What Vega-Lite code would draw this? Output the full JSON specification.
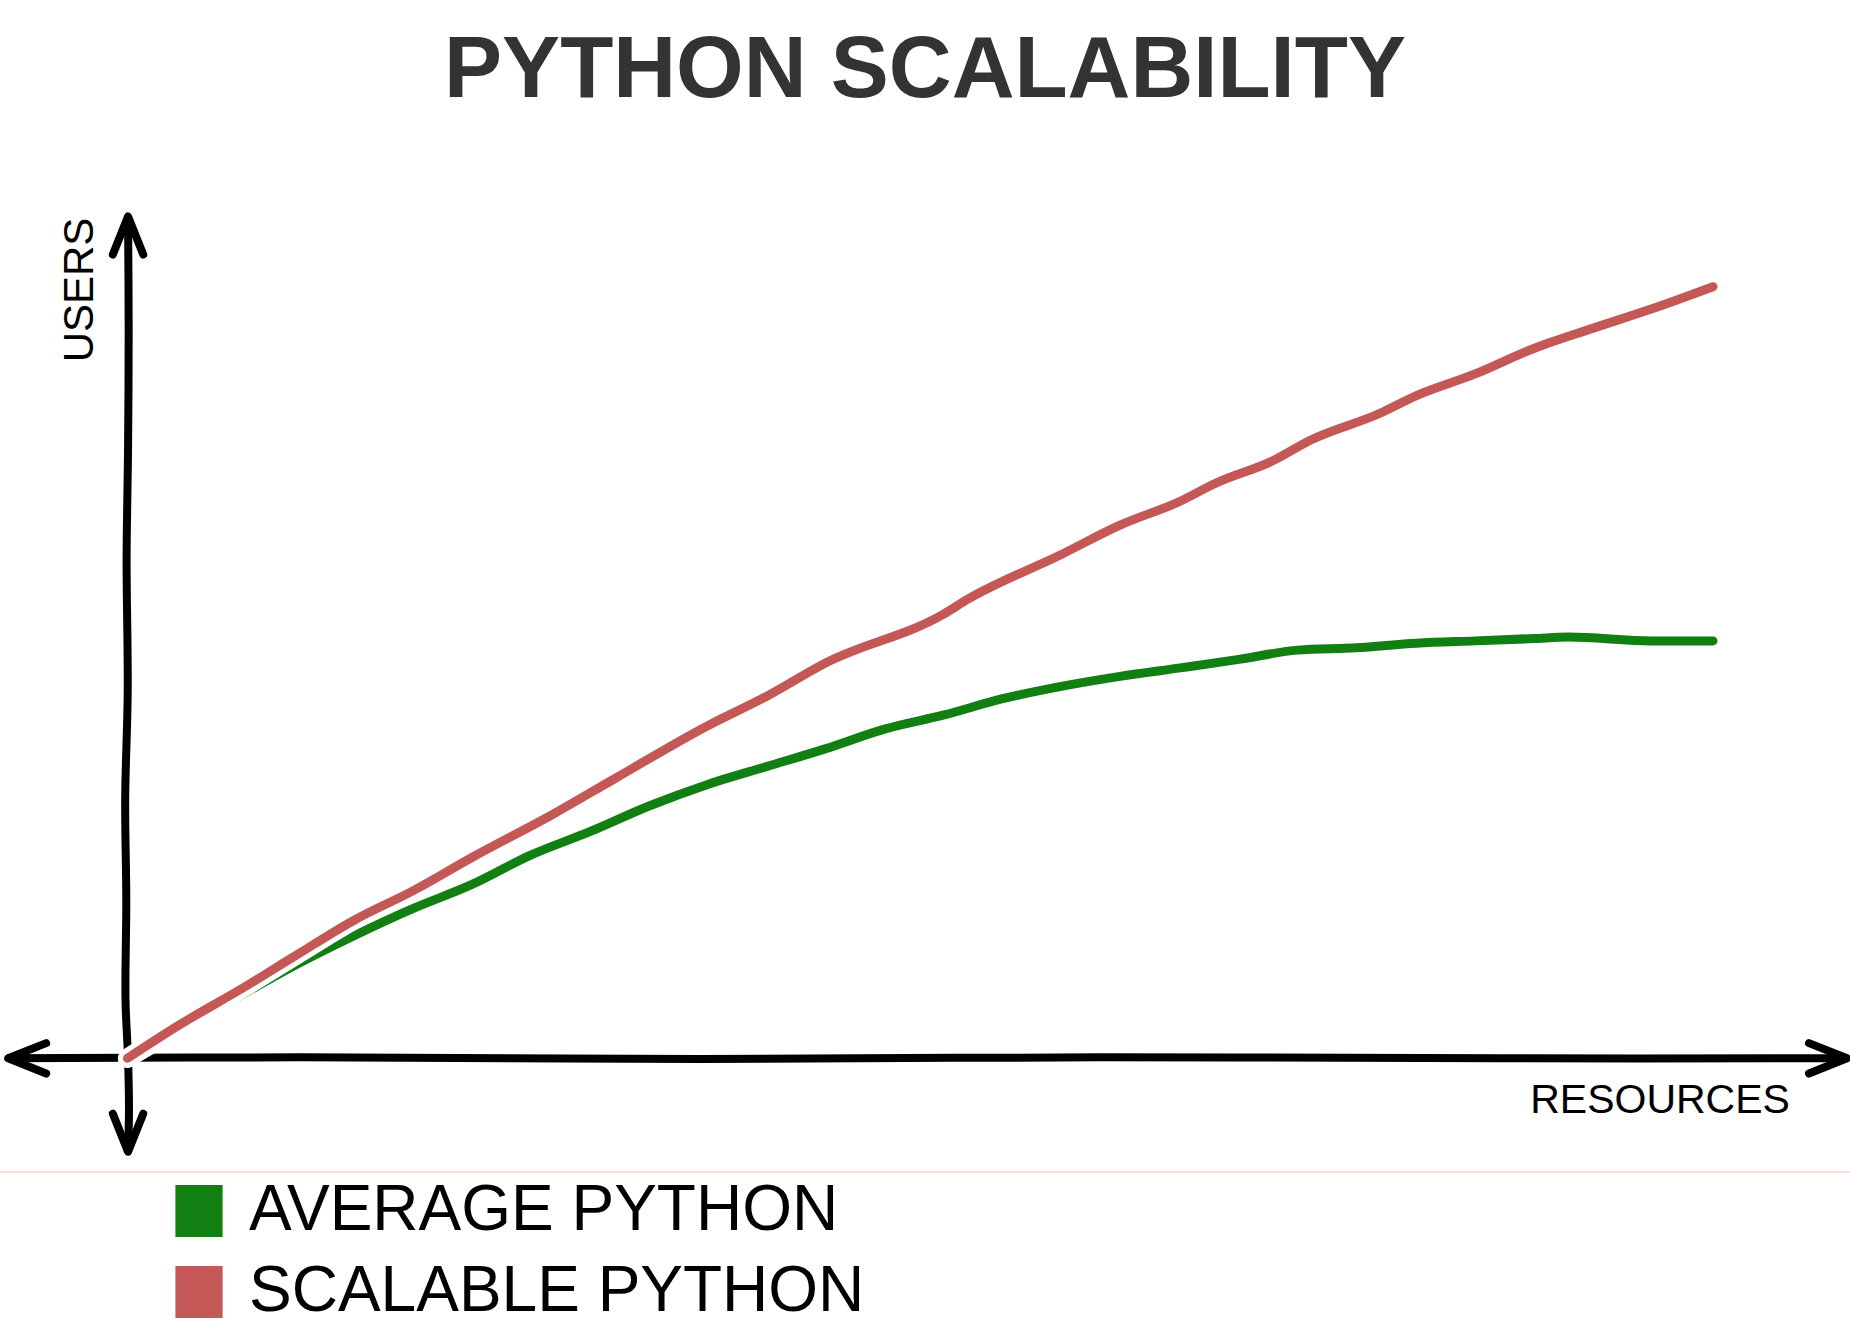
{
  "$schema": "https://vega.github.io/schema/vega-lite/v6.json",
  "width": 1850,
  "height": 1202,
  "autosize": "none",
  "padding": {"top": 130, "left": 0, "right": 0, "bottom": 0},
  "background": "white",
  "title": {"text": "PYTHON SCALABILITY", "font": "Liberation Sans", "fontSize": 87, "fontWeight": "bold", "color": "#333333", "anchor": "middle", "offset": 15},
  "config": {"view": {"stroke": null}, "axis": {"disable": true}},
  "datasets": {
    "lines": [
      {"series": "AVERAGE PYTHON", "x": 0, "y": 0},
      {"series": "AVERAGE PYTHON", "x": 3.1, "y": 3.7},
      {"series": "AVERAGE PYTHON", "x": 7.6, "y": 8.7},
      {"series": "AVERAGE PYTHON", "x": 10.6, "y": 12.1},
      {"series": "AVERAGE PYTHON", "x": 14.3, "y": 15.9},
      {"series": "AVERAGE PYTHON", "x": 18.0, "y": 19.4},
      {"series": "AVERAGE PYTHON", "x": 21.7, "y": 22.5},
      {"series": "AVERAGE PYTHON", "x": 25.4, "y": 26.3},
      {"series": "AVERAGE PYTHON", "x": 29.2, "y": 29.4},
      {"series": "AVERAGE PYTHON", "x": 32.9, "y": 32.7},
      {"series": "AVERAGE PYTHON", "x": 36.6, "y": 35.5},
      {"series": "AVERAGE PYTHON", "x": 40.3, "y": 37.8},
      {"series": "AVERAGE PYTHON", "x": 44.0, "y": 40.1},
      {"series": "AVERAGE PYTHON", "x": 47.8, "y": 42.7},
      {"series": "AVERAGE PYTHON", "x": 51.5, "y": 44.5},
      {"series": "AVERAGE PYTHON", "x": 55.2, "y": 46.6},
      {"series": "AVERAGE PYTHON", "x": 58.9, "y": 48.2},
      {"series": "AVERAGE PYTHON", "x": 62.6, "y": 49.5},
      {"series": "AVERAGE PYTHON", "x": 66.4, "y": 50.6},
      {"series": "AVERAGE PYTHON", "x": 70.1, "y": 51.7},
      {"series": "AVERAGE PYTHON", "x": 73.8, "y": 52.9},
      {"series": "AVERAGE PYTHON", "x": 77.5, "y": 53.2},
      {"series": "AVERAGE PYTHON", "x": 81.3, "y": 53.8},
      {"series": "AVERAGE PYTHON", "x": 85.0, "y": 54.1},
      {"series": "AVERAGE PYTHON", "x": 88.7, "y": 54.4},
      {"series": "AVERAGE PYTHON", "x": 90.9, "y": 54.6},
      {"series": "AVERAGE PYTHON", "x": 96.1, "y": 54.1},
      {"series": "AVERAGE PYTHON", "x": 100, "y": 54.1},
      {"series": "SCALABLE PYTHON", "x": 0, "y": 0},
      {"series": "SCALABLE PYTHON", "x": 3.1, "y": 4.1},
      {"series": "SCALABLE PYTHON", "x": 7.6, "y": 9.5},
      {"series": "SCALABLE PYTHON", "x": 10.6, "y": 13.3},
      {"series": "SCALABLE PYTHON", "x": 14.3, "y": 17.9},
      {"series": "SCALABLE PYTHON", "x": 18.0, "y": 21.7},
      {"series": "SCALABLE PYTHON", "x": 21.7, "y": 26.0},
      {"series": "SCALABLE PYTHON", "x": 26.9, "y": 31.7},
      {"series": "SCALABLE PYTHON", "x": 30.7, "y": 36.2},
      {"series": "SCALABLE PYTHON", "x": 36.6, "y": 43.1},
      {"series": "SCALABLE PYTHON", "x": 40.3, "y": 46.9},
      {"series": "SCALABLE PYTHON", "x": 44.0, "y": 51.2},
      {"series": "SCALABLE PYTHON", "x": 51.5, "y": 57.6},
      {"series": "SCALABLE PYTHON", "x": 53.0, "y": 59.5},
      {"series": "SCALABLE PYTHON", "x": 58.9, "y": 65.3},
      {"series": "SCALABLE PYTHON", "x": 62.6, "y": 69.1},
      {"series": "SCALABLE PYTHON", "x": 66.4, "y": 72.2},
      {"series": "SCALABLE PYTHON", "x": 68.6, "y": 74.5},
      {"series": "SCALABLE PYTHON", "x": 72.3, "y": 77.5},
      {"series": "SCALABLE PYTHON", "x": 74.6, "y": 80.1},
      {"series": "SCALABLE PYTHON", "x": 79.0, "y": 83.6},
      {"series": "SCALABLE PYTHON", "x": 81.3, "y": 85.9},
      {"series": "SCALABLE PYTHON", "x": 85.0, "y": 88.7},
      {"series": "SCALABLE PYTHON", "x": 88.7, "y": 92.0},
      {"series": "SCALABLE PYTHON", "x": 92.4, "y": 94.6},
      {"series": "SCALABLE PYTHON", "x": 96.1, "y": 97.1},
      {"series": "SCALABLE PYTHON", "x": 100, "y": 100}
    ],
    "axisx": [
      {"i": 0, "x": -7.47, "y": 0},
      {"i": 1, "x": 10.89, "y": 0.13},
      {"i": 2, "x": 36.11, "y": -0.09},
      {"i": 3, "x": 61.34, "y": 0.13},
      {"i": 4, "x": 86.57, "y": 0},
      {"i": 5, "x": 108.39, "y": 0}
    ],
    "axisy": [
      {"i": 0, "x": 0.04, "y": 108.9},
      {"i": 1, "x": 0.08, "y": 94.4},
      {"i": 2, "x": 0.04, "y": 78.9},
      {"i": 3, "x": -0.05, "y": 64.6},
      {"i": 4, "x": 0.02, "y": 47.7},
      {"i": 5, "x": -0.14, "y": 33.5},
      {"i": 6, "x": -0.07, "y": 20.5},
      {"i": 7, "x": -0.12, "y": 7.6},
      {"i": 8, "x": 0.04, "y": 0.0},
      {"i": 9, "x": 0.10, "y": -6.7},
      {"i": 10, "x": 0.04, "y": -11.9}
    ],
    "tips": [
      {"tip": "up", "x": 0.04, "y": 109.1},
      {"tip": "down", "x": 0.04, "y": -12.1},
      {"tip": "left", "x": -7.52, "y": 0},
      {"tip": "right", "x": 108.45, "y": 0}
    ],
    "axislabels": [
      {"label": "RESOURCES", "x": 96.66, "y": -7.09},
      {"label": "USERS", "x": -2.99, "y": 99.57}
    ]
  },
  "layer": [
    {
      "data": {"name": "axisx"},
      "mark": {"type": "line", "color": "black", "strokeWidth": 8, "strokeCap": "round", "strokeJoin": "round", "interpolate": "catmull-rom"},
      "encoding": {
        "x": {"field": "x", "type": "quantitative", "scale": {"domain": [-8.035, 108.64], "nice": false, "zero": false}, "axis": null},
        "y": {"field": "y", "type": "quantitative", "scale": {"domain": [-35.47, 120.31], "nice": false, "zero": false}, "axis": null},
        "order": {"field": "i", "type": "quantitative"}
      }
    },
    {
      "data": {"name": "axisy"},
      "mark": {"type": "line", "color": "black", "strokeWidth": 8, "strokeCap": "round", "strokeJoin": "round", "interpolate": "catmull-rom"},
      "encoding": {
        "x": {"field": "x", "type": "quantitative", "scale": {"domain": [-8.035, 108.64], "nice": false, "zero": false}, "axis": null},
        "y": {"field": "y", "type": "quantitative", "scale": {"domain": [-35.47, 120.31], "nice": false, "zero": false}, "axis": null},
        "order": {"field": "i", "type": "quantitative"}
      }
    },
    {
      "data": {"name": "tips"},
      "transform": [{"filter": "datum.tip == 'up'"}],
      "mark": {"type": "point", "shape": "M -0.4 1 L 0 0 L 0.4 1", "size": 5776, "angle": 0, "filled": false, "color": "black", "strokeWidth": 8, "strokeCap": "round", "strokeJoin": "round", "opacity": 1},
      "encoding": {
        "x": {"field": "x", "type": "quantitative", "scale": {"domain": [-8.035, 108.64], "nice": false, "zero": false}, "axis": null},
        "y": {"field": "y", "type": "quantitative", "scale": {"domain": [-35.47, 120.31], "nice": false, "zero": false}, "axis": null}
      }
    },
    {
      "data": {"name": "tips"},
      "transform": [{"filter": "datum.tip == 'right'"}],
      "mark": {"type": "point", "shape": "M -0.4 1 L 0 0 L 0.4 1", "size": 5776, "angle": 90, "filled": false, "color": "black", "strokeWidth": 8, "strokeCap": "round", "strokeJoin": "round", "opacity": 1},
      "encoding": {
        "x": {"field": "x", "type": "quantitative", "scale": {"domain": [-8.035, 108.64], "nice": false, "zero": false}, "axis": null},
        "y": {"field": "y", "type": "quantitative", "scale": {"domain": [-35.47, 120.31], "nice": false, "zero": false}, "axis": null}
      }
    },
    {
      "data": {"name": "tips"},
      "transform": [{"filter": "datum.tip == 'down'"}],
      "mark": {"type": "point", "shape": "M -0.4 1 L 0 0 L 0.4 1", "size": 5776, "angle": 180, "filled": false, "color": "black", "strokeWidth": 8, "strokeCap": "round", "strokeJoin": "round", "opacity": 1},
      "encoding": {
        "x": {"field": "x", "type": "quantitative", "scale": {"domain": [-8.035, 108.64], "nice": false, "zero": false}, "axis": null},
        "y": {"field": "y", "type": "quantitative", "scale": {"domain": [-35.47, 120.31], "nice": false, "zero": false}, "axis": null}
      }
    },
    {
      "data": {"name": "tips"},
      "transform": [{"filter": "datum.tip == 'left'"}],
      "mark": {"type": "point", "shape": "M -0.4 1 L 0 0 L 0.4 1", "size": 5776, "angle": 270, "filled": false, "color": "black", "strokeWidth": 8, "strokeCap": "round", "strokeJoin": "round", "opacity": 1},
      "encoding": {
        "x": {"field": "x", "type": "quantitative", "scale": {"domain": [-8.035, 108.64], "nice": false, "zero": false}, "axis": null},
        "y": {"field": "y", "type": "quantitative", "scale": {"domain": [-35.47, 120.31], "nice": false, "zero": false}, "axis": null}
      }
    },
    {
      "data": {"name": "axislabels"},
      "transform": [{"filter": "datum.label == 'RESOURCES'"}],
      "mark": {"type": "text", "font": "Liberation Sans", "fontSize": 41, "color": "black", "align": "center", "baseline": "alphabetic"},
      "encoding": {
        "x": {"field": "x", "type": "quantitative", "scale": {"domain": [-8.035, 108.64], "nice": false, "zero": false}, "axis": null},
        "y": {"field": "y", "type": "quantitative", "scale": {"domain": [-35.47, 120.31], "nice": false, "zero": false}, "axis": null},
        "text": {"field": "label"}
      }
    },
    {
      "data": {"name": "axislabels"},
      "transform": [{"filter": "datum.label == 'USERS'"}],
      "mark": {"type": "text", "font": "Liberation Sans", "fontSize": 42, "color": "black", "align": "center", "baseline": "middle", "angle": 270},
      "encoding": {
        "x": {"field": "x", "type": "quantitative", "scale": {"domain": [-8.035, 108.64], "nice": false, "zero": false}, "axis": null},
        "y": {"field": "y", "type": "quantitative", "scale": {"domain": [-35.47, 120.31], "nice": false, "zero": false}, "axis": null},
        "text": {"field": "label"}
      }
    },
    {
      "data": {"values": [{}]},
      "mark": {"type": "rule", "color": "#fcdcd4", "strokeWidth": 2},
      "encoding": {
        "y": {"datum": -14.74, "type": "quantitative", "scale": {"domain": [-35.47, 120.31], "nice": false, "zero": false}, "axis": null}
      }
    },
    {
      "data": {"name": "lines"},
      "transform": [{"filter": "datum.series == 'AVERAGE PYTHON'"}],
      "mark": {"type": "line", "color": "white", "strokeWidth": 19, "strokeCap": "round", "strokeJoin": "round", "interpolate": "monotone"},
      "encoding": {
        "x": {"field": "x", "type": "quantitative", "scale": {"domain": [-8.035, 108.64], "nice": false, "zero": false}, "axis": null},
        "y": {"field": "y", "type": "quantitative", "scale": {"domain": [-35.47, 120.31], "nice": false, "zero": false}, "axis": null}
      }
    },
    {
      "data": {"name": "lines"},
      "transform": [{"filter": "datum.series == 'AVERAGE PYTHON'"}],
      "mark": {"type": "line", "strokeWidth": 9, "strokeCap": "round", "strokeJoin": "round", "interpolate": "monotone"},
      "encoding": {
        "x": {"field": "x", "type": "quantitative", "scale": {"domain": [-8.035, 108.64], "nice": false, "zero": false}, "axis": null},
        "y": {"field": "y", "type": "quantitative", "scale": {"domain": [-35.47, 120.31], "nice": false, "zero": false}, "axis": null},
        "color": {"field": "series", "type": "nominal",
          "scale": {"domain": ["AVERAGE PYTHON", "SCALABLE PYTHON"], "range": ["#117f11", "#c45856"]},
          "legend": {"title": null, "orient": "none", "legendX": 167, "legendY": 1049, "padding": 0, "rowPadding": 17, "labelOffset": 18, "labelLimit": 0,
            "labelFont": "Liberation Sans", "labelFontSize": 64, "labelColor": "black", "labelBaseline": "middle",
            "symbolType": "M -0.9 -1 L 0.9 -1 L 0.9 1 L -0.9 1 Z", "symbolSize": 2304, "symbolStrokeWidth": 4, "symbolStrokeColor": "black", "symbolFillColor": "#888888", "symbolOpacity": 1,
            "encode": {"symbols": {
              "enter": {"stroke": {"value": "black"}, "strokeWidth": {"value": 4}},
              "update": {"fill": {"scale": "color", "field": "value"}, "stroke": {"value": "black"}, "strokeWidth": {"value": 4}, "fillOpacity": {"value": 1}, "strokeOpacity": {"value": 1}}}}}
        }
      }
    },
    {
      "data": {"name": "lines"},
      "transform": [{"filter": "datum.series == 'SCALABLE PYTHON'"}],
      "mark": {"type": "line", "color": "white", "strokeWidth": 19, "strokeCap": "round", "strokeJoin": "round", "interpolate": "monotone"},
      "encoding": {
        "x": {"field": "x", "type": "quantitative", "scale": {"domain": [-8.035, 108.64], "nice": false, "zero": false}, "axis": null},
        "y": {"field": "y", "type": "quantitative", "scale": {"domain": [-35.47, 120.31], "nice": false, "zero": false}, "axis": null}
      }
    },
    {
      "data": {"name": "lines"},
      "transform": [{"filter": "datum.series == 'SCALABLE PYTHON'"}],
      "mark": {"type": "line", "strokeWidth": 9, "strokeCap": "round", "strokeJoin": "round", "interpolate": "monotone"},
      "encoding": {
        "x": {"field": "x", "type": "quantitative", "scale": {"domain": [-8.035, 108.64], "nice": false, "zero": false}, "axis": null},
        "y": {"field": "y", "type": "quantitative", "scale": {"domain": [-35.47, 120.31], "nice": false, "zero": false}, "axis": null},
        "color": {"field": "series", "type": "nominal",
          "scale": {"domain": ["AVERAGE PYTHON", "SCALABLE PYTHON"], "range": ["#117f11", "#c45856"]},
          "legend": {"title": null, "orient": "none", "legendX": 167, "legendY": 1049, "padding": 0, "rowPadding": 17, "labelOffset": 18, "labelLimit": 0,
            "labelFont": "Liberation Sans", "labelFontSize": 64, "labelColor": "black", "labelBaseline": "middle",
            "symbolType": "M -0.9 -1 L 0.9 -1 L 0.9 1 L -0.9 1 Z", "symbolSize": 2304, "symbolStrokeWidth": 4, "symbolStrokeColor": "black", "symbolFillColor": "#888888", "symbolOpacity": 1,
            "encode": {"symbols": {
              "enter": {"stroke": {"value": "black"}, "strokeWidth": {"value": 4}},
              "update": {"fill": {"scale": "color", "field": "value"}, "stroke": {"value": "black"}, "strokeWidth": {"value": 4}, "fillOpacity": {"value": 1}, "strokeOpacity": {"value": 1}}}}}
        }
      }
    }
  ]
}
